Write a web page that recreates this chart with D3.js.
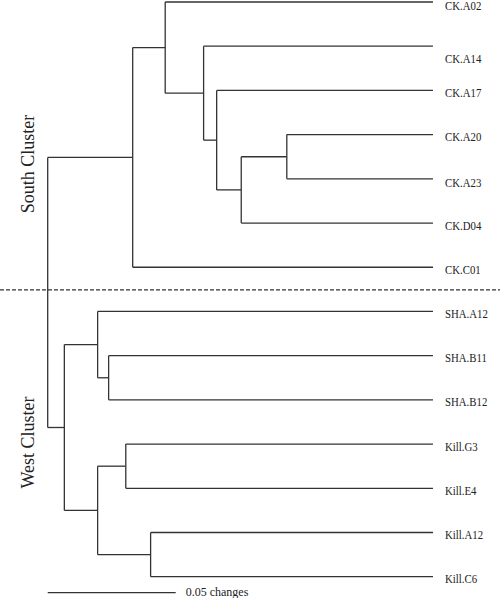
<!DOCTYPE html>
<html>
<head>
<meta charset="utf-8">
<script src="https://cdn.jsdelivr.net/npm/d3@7"></script>
<style>
  html, body { margin: 0; padding: 0; background: #fff; }
  svg { display: block; }
</style>
</head>
<body>
<svg id="chart" width="500" height="598"></svg>
<script>
// ---- DATA ----
// Leaf order (top to bottom)
const leaves = ["CK.A02", "CK.A14", "CK.A17", "CK.A20", "CK.A23", "CK.D04", "CK.C01",
                "SHA.A12", "SHA.B11", "SHA.B12", "Kill.G3", "Kill.E4", "Kill.A12", "Kill.C6"];
// Tree nodes: id, parent, cumulative distance from root (changes)
const nodeIds     = ["root", "South", "n1", "n2", "n3", "n4", "n5", "West", "SHA", "SB", "Kill", "KG", "KA",
                     "CK.A02", "CK.A14", "CK.A17", "CK.A20", "CK.A23", "CK.D04", "CK.C01",
                     "SHA.A12", "SHA.B11", "SHA.B12", "Kill.G3", "Kill.E4", "Kill.A12", "Kill.C6"];
const nodeParents = [null, "root", "South", "n1", "n2", "n3", "n4", "root", "West", "SHA", "West", "Kill", "Kill",
                     "n1", "n2", "n3", "n5", "n5", "n4", "South",
                     "SHA", "SB", "SB", "KG", "KG", "KA", "KA"];
const nodeDepths  = [0, 0.0332, 0.0459, 0.0609, 0.0660, 0.0756, 0.0934, 0.0065, 0.0195, 0.0238, 0.0195, 0.0305, 0.0402,
                     0.1505, 0.1505, 0.1505, 0.1505, 0.1505, 0.1505, 0.1505,
                     0.1505, 0.1505, 0.1505, 0.1505, 0.1505, 0.1505, 0.1505];
const clusterNames = ["South Cluster", "West Cluster"];
const scaleBarValue = 0.05;
const scaleBarLabel = "0.05 changes";

// ---- LAYOUT ----
const svg = d3.select("#chart");
const lineColor = "#333";

const table = nodeIds.map((id, i) => ({ id, parentId: nodeParents[i], dist: nodeDepths[i] }));
const root = d3.stratify().id(d => d.id).parentId(d => d.parentId)(table);

// order children to match leaf order
const leafIndex = new Map(leaves.map((l, i) => [l, i]));
root.eachAfter(n => {
  n.minLeaf = n.children ? d3.min(n.children, c => c.minLeaf) : leafIndex.get(n.id);
});
root.sort((a, b) => a.minLeaf - b.minLeaf);

const x = d3.scaleLinear().domain([0, 0.05]).range([47.7, 175.7]);
const y = d3.scalePoint().domain(leaves).range([2, 576.7]);

root.eachAfter(n => {
  n.px = x(n.data.dist);
  if (!n.children) n.py = y(n.id);
  else n.py = (n.children[0].py + n.children[n.children.length - 1].py) / 2;
});

const g = svg.append("g")
  .attr("fill", "none")
  .attr("stroke", lineColor)
  .attr("stroke-width", 1.3);

// horizontal branches
g.selectAll("line.h")
  .data(root.descendants().filter(n => n.parent))
  .join("line")
  .attr("class", "h")
  .attr("x1", n => n.parent.px)
  .attr("x2", n => n.px)
  .attr("y1", n => n.py)
  .attr("y2", n => n.py);

// vertical connectors
g.selectAll("line.v")
  .data(root.descendants().filter(n => n.children))
  .join("line")
  .attr("class", "v")
  .attr("x1", n => n.px)
  .attr("x2", n => n.px)
  .attr("y1", n => n.children[0].py)
  .attr("y2", n => n.children[n.children.length - 1].py);

// leaf labels
const nudge = { "CK.A02": 1.5, "CK.A14": 10, "CK.A23": 2 };
svg.append("g")
  .selectAll("text")
  .data(root.leaves())
  .join("text")
  .attr("transform", n => `translate(445,${n.py + 6.5 + (nudge[n.id] || 0)}) scale(0.9,1)`)
  .attr("font-family", "'Liberation Serif', 'Times New Roman', serif")
  .attr("font-size", 12)
  .attr("fill", "#222")
  .text(n => n.id);

// dashed separator between clusters
const sepY = (y("CK.C01") + y("SHA.A12")) / 2 + 0.5;
svg.append("line")
  .attr("x1", 0).attr("x2", 500)
  .attr("y1", sepY).attr("y2", sepY)
  .attr("stroke", lineColor)
  .attr("stroke-width", 1.1)
  .attr("stroke-dasharray", "4,2");

// cluster labels
const clusterCenters = [164, 442.5];
svg.append("g")
  .selectAll("text")
  .data(clusterNames)
  .join("text")
  .attr("transform", (d, i) => `translate(34,${clusterCenters[i]}) rotate(-90)`)
  .attr("text-anchor", "middle")
  .attr("font-family", "'Liberation Serif', 'Times New Roman', serif")
  .attr("font-size", 18)
  .attr("fill", "#222")
  .text(d => d);

// scale bar
svg.append("line")
  .attr("x1", x(0)).attr("x2", x(scaleBarValue))
  .attr("y1", 592.7).attr("y2", 592.7)
  .attr("stroke", lineColor)
  .attr("stroke-width", 1.3);
svg.append("text")
  .attr("x", x(scaleBarValue) + 10)
  .attr("y", 596)
  .attr("font-family", "'Liberation Serif', 'Times New Roman', serif")
  .attr("font-size", 12)
  .attr("fill", "#222")
  .text(scaleBarLabel);
</script>
</body>
</html>
